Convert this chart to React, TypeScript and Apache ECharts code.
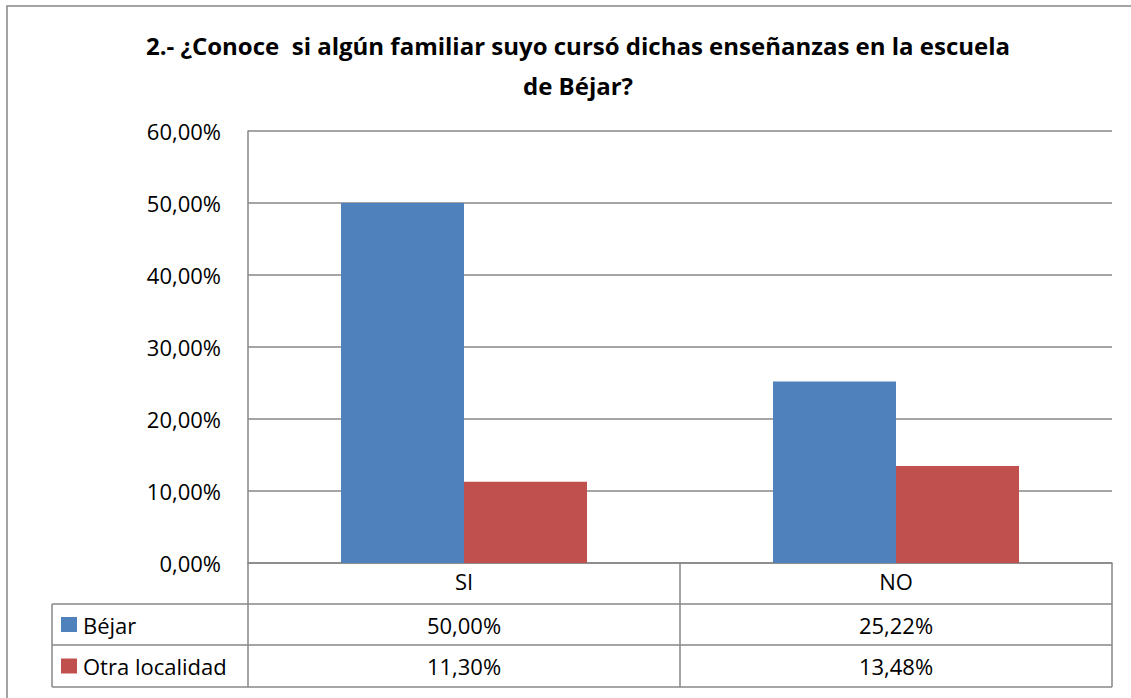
import React, { useEffect, useRef } from "react";
import * as echarts from "echarts";

const categories = ["SI", "NO"];
const seriesNames = ["Béjar", "Otra localidad"];
const bejar = [0.5, 0.2522];
const otra = [0.113, 0.1348];
const yTicks = [0, 0.1, 0.2, 0.3, 0.4, 0.5, 0.6];
const titleText =
  "2.- ¿Conoce  si algún familiar suyo cursó dichas enseñanzas en la escuela\nde Béjar?";

const BLUE = "#4F81BD";
const RED = "#C0504D";
const LINE = "#878787";
const FONT = "'Open Sans', sans-serif";

const fmt = (v: number) => (v * 100).toFixed(2).replace(".", ",") + "%";

export default function App() {
  const ref = useRef<HTMLDivElement>(null);
  useEffect(() => {
    if (!ref.current) return;
    const chart = echarts.init(ref.current, null, { renderer: "svg" });
    const L = 248, R = 1112, T = 131, B = 563;
    const rowY = [563, 604, 645, 687];
    const tblLeft = 52;
    const mid = (L + R) / 2;
    const colCenters = [(L + mid) / 2, (mid + R) / 2];
    const seriesData = [bejar, otra];
    const colors = [BLUE, RED];

    const lineEl = (x1: number, y1: number, x2: number, y2: number) => ({
      type: "line",
      shape: { x1, y1, x2, y2 },
      style: { stroke: LINE, lineWidth: 1.5 },
      silent: true,
    });

    const graphics: any[] = [
      {
        type: "rect",
        shape: { x: 7, y: 6, width: 1140, height: 720 },
        style: { fill: "none", stroke: LINE, lineWidth: 1.5 },
        silent: true,
      },
      lineEl(L, B, L, rowY[3]),
      lineEl(mid, B, mid, rowY[3]),
      lineEl(R, B, R, rowY[3]),
      lineEl(tblLeft, rowY[1], tblLeft, rowY[3]),
      lineEl(tblLeft, rowY[1], R, rowY[1]),
      lineEl(tblLeft, rowY[2], R, rowY[2]),
      lineEl(tblLeft, rowY[3], R, rowY[3]),
    ];
    seriesNames.forEach((name, i) => {
      const cy = (rowY[i + 1] + rowY[i + 2]) / 2;
      graphics.push({
        type: "rect",
        shape: { x: 61, y: cy - 7.5, width: 16, height: 15 },
        style: { fill: colors[i] },
        silent: true,
      });
      graphics.push({
        type: "text",
        x: 83,
        y: cy,
        style: {
          text: name,
          font: `22px ${FONT}`,
          fill: "#000",
          textVerticalAlign: "middle",
          textAlign: "left",
        },
        silent: true,
      });
      seriesData[i].forEach((v, j) => {
        graphics.push({
          type: "text",
          x: colCenters[j],
          y: cy,
          style: {
            text: fmt(v),
            font: `22px ${FONT}`,
            fill: "#000",
            textVerticalAlign: "middle",
            textAlign: "center",
          },
          silent: true,
        });
      });
    });

    chart.setOption({
      animation: false,
      backgroundColor: "#fff",
      title: {
        text: titleText,
        left: 573,
        top: 20,
        textAlign: "center",
        textStyle: {
          fontFamily: FONT,
          fontWeight: "bold",
          fontSize: 24,
          lineHeight: 40,
          color: "#000",
        },
      },
      grid: { left: L, right: 1131 - R, top: T, bottom: 698 - B, containLabel: false },
      xAxis: {
        type: "category",
        data: categories,
        axisLine: { lineStyle: { color: LINE, width: 1.5 } },
        axisTick: { show: false },
        axisLabel: { fontFamily: FONT, fontSize: 22, color: "#000", margin: 7 },
      },
      yAxis: {
        type: "value",
        min: 0,
        max: 0.6,
        interval: 0.1,
        axisLine: { show: true, lineStyle: { color: LINE, width: 1.5 } },
        axisTick: { show: false },
        splitLine: { lineStyle: { color: LINE, width: 1.5 } },
        axisLabel: {
          fontFamily: FONT,
          fontSize: 22,
          color: "#000",
          margin: 27,
          formatter: (v: number) => fmt(v),
          customValues: yTicks,
        },
      },
      series: seriesNames.map((name, i) => ({
        name,
        type: "bar",
        data: seriesData[i],
        barWidth: 123,
        barGap: "0%",
        itemStyle: { color: colors[i] },
      })),
      graphic: graphics,
    });
    return () => chart.dispose();
  }, []);
  return (
    <div
      ref={ref}
      style={{ position: "fixed", left: 0, top: 0, width: 1131, height: 698 }}
    />
  );
}
